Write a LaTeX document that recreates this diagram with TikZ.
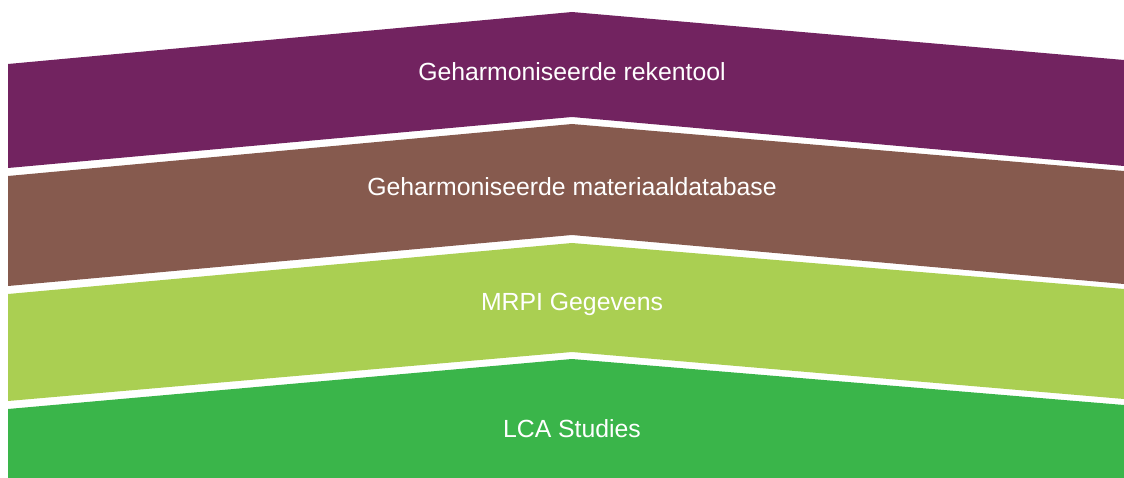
\documentclass[tikz,border=0pt]{standalone}
\usepackage{fontspec}
\setmainfont{Liberation Sans}
\definecolor{cpurple}{HTML}{722360}
\definecolor{cbrown}{HTML}{865A4E}
\definecolor{clight}{HTML}{AACF52}
\definecolor{cgreen}{HTML}{3AB54A}
\begin{document}
\begin{tikzpicture}[x=1pt,y=-1pt,
  lbl/.style={text=white,font=\fontsize{24.8}{28}\selectfont,anchor=base,inner sep=0pt}]
\useasboundingbox (0,0) rectangle (1124,478);
\fill[cpurple] (8,64) -- (572,12) -- (1124,60) -- (1124,166) -- (572,117) -- (8,168) -- cycle;
\fill[cbrown] (8,176) -- (572,124) -- (1124,171) -- (1124,284) -- (572,235) -- (8,286) -- cycle;
\fill[clight] (8,294) -- (572,243) -- (1124,289) -- (1124,399) -- (572,352) -- (8,401) -- cycle;
\fill[cgreen] (8,409) -- (572,359) -- (1124,405) -- (1124,478) -- (8,478) -- cycle;
\node[lbl] (t1) at (572,81) {Geharmoniseerde rekentool};
\node[lbl] (t2) at (572,196) {Geharmoniseerde materiaaldatabase};
\node[lbl] (t3) at (572,310) {MRPI Gegevens};
\node[lbl] (t4) at (572,437) {LCA Studies};
\end{tikzpicture}
\end{document}
